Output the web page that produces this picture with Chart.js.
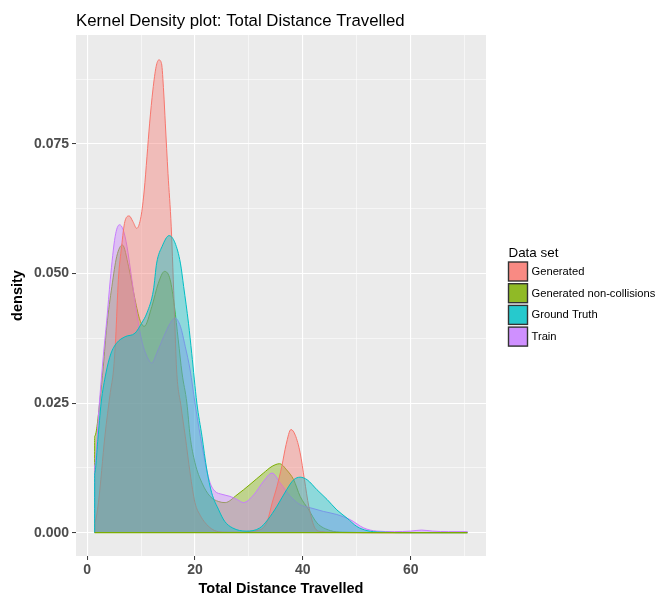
<!DOCTYPE html>
<html>
<head>
<meta charset="utf-8">
<title>Kernel Density plot: Total Distance Travelled</title>
<script src="https://cdn.jsdelivr.net/npm/chart.js@4.4.1/dist/chart.umd.min.js"></script>
<style>
  html, body { margin: 0; padding: 0; background: #ffffff; }
  #plot { display: block; }
</style>
</head>
<body>
<canvas id="plot" width="662" height="599"></canvas>
<script>
// DENSITY ESTIMATES (distance -> density) PER DATA SET
const genX = [1.4, 2.1, 3.3, 4.3, 4.9, 5.3, 5.8, 6.4, 7.0, 7.8, 8.5, 9.2, 10.0, 10.6, 11.1, 11.6, 12.2, 12.8, 13.3, 13.8, 14.2, 14.5, 15.0, 15.6, 16.2, 16.6, 17.4, 18.2, 19.1, 20.0, 21.0, 21.9, 23.0, 24.3, 26.0, 28.0, 30.0, 31.5, 32.7, 33.5, 34.3, 35.2, 36.1, 36.9, 37.8, 38.6, 39.5, 40.3, 41.1, 42.3, 43.5, 45.0, 50.0, 60.0, 70.5];
const genY = [0.0020, 0.0058, 0.0186, 0.0270, 0.0314, 0.0375, 0.0488, 0.0552, 0.0600, 0.0611, 0.0600, 0.0587, 0.0610, 0.0661, 0.0725, 0.0790, 0.0854, 0.0899, 0.0912, 0.0905, 0.0850, 0.0790, 0.0693, 0.0590, 0.0424, 0.0314, 0.0245, 0.0186, 0.0115, 0.0058, 0.0033, 0.0019, 0.0008, 0.0002, 0.0001, 0.0001, 0.0002, 0.0004, 0.0010, 0.0025, 0.0057, 0.0089, 0.0128, 0.0170, 0.0199, 0.0188, 0.0154, 0.0102, 0.0051, 0.0008, 0.0002, 0.0001, 0, 0, 0];

const gncX = [1.4, 2.4, 3.0, 3.65, 4.6, 5.5, 6.55, 7.7, 8.9, 9.8, 10.6, 12.0, 13.2, 14.35, 15.4, 16.2, 16.9, 17.6, 18.5, 19.1, 20.0, 21.3, 22.8, 24.4, 25.6, 27.8, 30.2, 32.7, 34.3, 35.7, 37.0, 38.3, 39.5, 41.1, 42.6, 45.1, 47.3, 55.0, 70.5];
const gncY = [0.0186, 0.0256, 0.0320, 0.0398, 0.0475, 0.0533, 0.0555, 0.0513, 0.0449, 0.0410, 0.0398, 0.0436, 0.0481, 0.0504, 0.0488, 0.0436, 0.0372, 0.0308, 0.0250, 0.0186, 0.0135, 0.0096, 0.0070, 0.0060, 0.0058, 0.0073, 0.0093, 0.0115, 0.0128, 0.0133, 0.0121, 0.0102, 0.0070, 0.0044, 0.0019, 0.0004, 0.0001, 0, 0];

const gtX = [1.4, 2.0, 2.6, 3.5, 4.4, 5.5, 7.05, 8.9, 10.1, 11.1, 12.3, 12.9, 13.9, 15.2, 16.3, 17.3, 17.9, 18.8, 19.4, 20.35, 21.3, 22.2, 23.1, 24.4, 25.5, 27.0, 29.5, 32.0, 33.5, 35.2, 37.0, 38.3, 39.5, 40.8, 42.6, 44.5, 46.3, 48.2, 50.0, 51.9, 54.4, 60.0, 70.5];
const gtY = [0.0115, 0.0180, 0.0250, 0.0308, 0.0345, 0.0366, 0.0378, 0.0385, 0.0404, 0.0424, 0.0468, 0.0520, 0.0552, 0.0573, 0.0559, 0.0520, 0.0475, 0.0404, 0.0346, 0.0250, 0.0186, 0.0121, 0.0077, 0.0044, 0.0022, 0.0009, 0.0003, 0.0009, 0.0025, 0.0051, 0.0083, 0.0102, 0.0107, 0.0102, 0.0083, 0.0064, 0.0044, 0.0028, 0.0012, 0.0004, 0.0001, 0, 0];

const trainX = [1.4, 2.2, 3.0, 3.65, 4.3, 5.2, 6.0, 6.7, 7.4, 8.3, 9.2, 10.1, 11.1, 12.0, 12.9, 14.2, 15.4, 16.3, 17.3, 18.2, 19.1, 20.0, 21.0, 21.9, 22.8, 23.7, 25.0, 26.5, 27.8, 29.0, 30.9, 32.7, 34.3, 35.8, 37.7, 39.5, 41.4, 43.8, 46.3, 48.8, 51.3, 53.7, 57.0, 60.0, 62.0, 64.0, 67.0, 70.5];
const trainY = [0.0130, 0.0240, 0.0340, 0.0410, 0.0488, 0.0571, 0.0594, 0.0584, 0.0552, 0.0488, 0.0424, 0.0372, 0.0340, 0.0327, 0.0346, 0.0378, 0.0404, 0.0414, 0.0398, 0.0359, 0.0314, 0.0250, 0.0186, 0.0135, 0.0096, 0.0080, 0.0074, 0.0070, 0.0064, 0.0058, 0.0073, 0.0099, 0.0115, 0.0096, 0.0070, 0.0054, 0.0048, 0.0041, 0.0035, 0.0025, 0.0009, 0.0003, 0.0002, 0.0003, 0.0005, 0.0003, 0.0002, 0.0002];

const seriesNames = ["Generated", "Generated non-collisions", "Ground Truth", "Train"];
const seriesColors = ["#F8766D", "#7CAE00", "#00BFC4", "#C77CFF"];
// stacking of the layers, 1 = drawn last (on top)
const seriesLayer = [2, 4, 1, 3];

// TICKS / GRID
const xMajor = [0, 20, 40, 60];
const xMinor = [10, 30, 50, 70];
const yMajor = [0, 0.025, 0.05, 0.075];
const yMinor = [0.0125, 0.0375, 0.0625, 0.0875];

const FONT = '"Liberation Sans", Arial, Helvetica, sans-serif';
Chart.defaults.font.family = FONT;

const isIn = (list, v) => list.some(m => Math.abs(m - v) < 1e-9);
const toRgba = (hex, a) => {
  const n = parseInt(hex.slice(1), 16);
  return `rgba(${(n >> 16) & 255}, ${(n >> 8) & 255}, ${n & 255}, ${a})`;
};

// polygon like geom_density: drop to zero at both ends
function densityPoints(xs, ys) {
  const pts = xs.map((x, i) => ({ x: x, y: ys[i] }));
  return [{ x: xs[0], y: 0 }].concat(pts, [{ x: xs[xs.length - 1], y: 0 }]);
}

const allX = [genX, gncX, gtX, trainX];
const allY = [genY, gncY, gtY, trainY];

const datasets = seriesNames.map((name, i) => ({
  label: name,
  data: densityPoints(allX[i], allY[i]),
  borderColor: seriesColors[i],
  backgroundColor: toRgba(seriesColors[i], 0.4),
  borderWidth: 1,
  fill: "origin",
  pointRadius: 0,
  cubicInterpolationMode: "monotone",
  order: seriesLayer[i]
}));

// bottom edge of the polygons
datasets.push({
  label: "baseline",
  data: [{ x: genX[0], y: 0 }, { x: genX[genX.length - 1], y: 0 }],
  borderColor: "#7CAE00",
  borderWidth: 1.2,
  fill: false,
  pointRadius: 0,
  order: 0
});

// PANEL BACKGROUND
const panelBg = {
  id: "panelBg",
  beforeDraw(chart) {
    const { ctx, chartArea: a } = chart;
    ctx.save();
    ctx.fillStyle = "#EBEBEB";
    ctx.fillRect(a.left, a.top, a.right - a.left, a.bottom - a.top);
    ctx.restore();
  }
};

// TITLE + LEGEND (ggplot style)
const titleAndLegend = {
  id: "titleAndLegend",
  afterDraw(chart) {
    const { ctx, chartArea: a } = chart;
    ctx.save();
    ctx.fillStyle = "#000000";
    ctx.textBaseline = "alphabetic";
    ctx.textAlign = "left";
    ctx.font = "16.8px " + FONT;
    ctx.fillText("Kernel Density plot: Total Distance Travelled", a.left, 26);

    const lx = 508.5;
    ctx.font = "13.4px " + FONT;
    ctx.fillText("Data set", lx, 257);

    ctx.font = "11.2px " + FONT;
    seriesNames.forEach((name, i) => {
      const top = 262 + i * 21.7;
      ctx.fillStyle = toRgba(seriesColors[i], 0.85);
      ctx.fillRect(lx, top, 19, 19);
      ctx.strokeStyle = "#333333";
      ctx.lineWidth = 1.4;
      ctx.strokeRect(lx, top, 19, 19);
      ctx.fillStyle = "#000000";
      ctx.textBaseline = "middle";
      ctx.fillText(name, 531.5, top + 10);
    });
    ctx.restore();
  }
};

const context = document.getElementById("plot").getContext("2d");
const chart = new Chart(context, {
  type: "line",
  data: { datasets },
  plugins: [panelBg, titleAndLegend],
  options: {
    responsive: false,
    animation: false,
    devicePixelRatio: 1,
    layout: { padding: { top: 35, right: 176, bottom: 0, left: 0 } },
    plugins: {
      legend: { display: false },
      title: { display: false },
      tooltip: { enabled: false }
    },
    scales: {
      x: {
        type: "linear",
        min: -2.055,
        max: 73.955,
        afterBuildTicks: (scale) => {
          scale.ticks = xMajor.concat(xMinor).sort((a, b) => a - b).map(v => ({ value: v }));
        },
        afterFit: (scale) => { scale.height = 43; },
        border: { display: false },
        grid: {
          color: "#FFFFFF",
          lineWidth: (c) => isIn(xMajor, c.tick.value) ? 1.1 : 0.55,
          tickLength: 4,
          tickWidth: 1,
          tickColor: (c) => isIn(xMajor, c.tick.value) ? "#333333" : "rgba(0,0,0,0)"
        },
        ticks: {
          autoSkip: false,
          maxRotation: 0,
          padding: 2,
          color: "#4D4D4D",
          font: { size: 14, weight: "bold" },
          callback: (v) => isIn(xMajor, v) ? String(v) : ""
        },
        title: {
          display: true,
          text: "Total Distance Travelled",
          color: "#000000",
          font: { size: 14.5, weight: "bold" },
          padding: { top: 0, bottom: 1.5 }
        }
      },
      y: {
        type: "linear",
        min: -0.0045,
        max: 0.0960,
        afterBuildTicks: (scale) => {
          scale.ticks = yMajor.concat(yMinor).sort((a, b) => a - b).map(v => ({ value: v }));
        },
        afterFit: (scale) => { scale.width = 76; },
        border: { display: false },
        grid: {
          color: "#FFFFFF",
          lineWidth: (c) => isIn(yMajor, c.tick.value) ? 1.1 : 0.55,
          tickLength: 4,
          tickWidth: 1,
          tickColor: (c) => isIn(yMajor, c.tick.value) ? "#333333" : "rgba(0,0,0,0)"
        },
        ticks: {
          autoSkip: false,
          padding: 3,
          color: "#4D4D4D",
          font: { size: 14, weight: "bold" },
          callback: (v) => isIn(yMajor, v) ? v.toFixed(3) : ""
        },
        title: {
          display: true,
          text: "density",
          color: "#000000",
          font: { size: 14.5, weight: "bold" },
          padding: { top: 9.3, bottom: 0 }
        }
      }
    }
  }
});
</script>
</body>
</html>
